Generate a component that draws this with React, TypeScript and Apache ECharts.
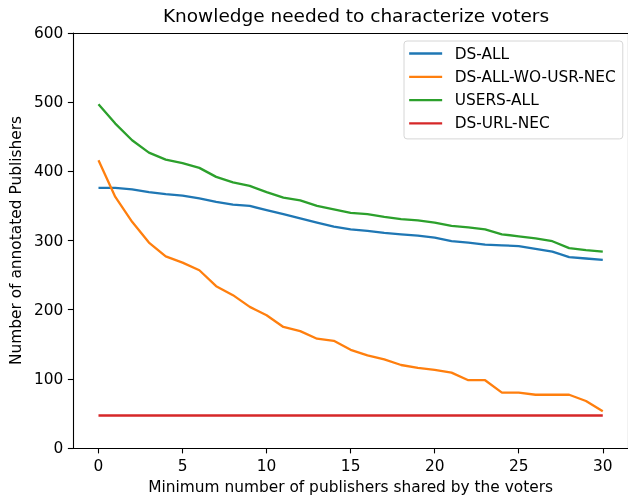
import React, { useEffect, useRef } from "react";
import * as echarts from "echarts";

const xs = [0, 1, 2, 3, 4, 5, 6, 7, 8, 9, 10, 11, 12, 13, 14, 15, 16, 17, 18, 19, 20, 21, 22, 23, 24, 25, 26, 27, 28, 29, 30];
const dsAll = [376, 376, 374, 370, 367, 365, 361, 356, 352, 350, 344, 338, 332, 326, 320, 316, 314, 311, 309, 307, 304, 299, 297, 294, 293, 292, 288, 284, 276, 274, 272];
const dsAllWoUsrNec = [416, 363, 327, 297, 277, 268, 257, 234, 221, 204, 192, 175, 169, 158, 155, 142, 134, 128, 120, 116, 113, 109, 98, 98, 80, 80, 77, 77, 77, 68, 53];
const usersAll = [497, 469, 445, 427, 417, 412, 405, 392, 384, 379, 370, 362, 358, 350, 345, 340, 338, 334, 331, 329, 326, 321, 319, 316, 309, 306, 303, 299, 289, 286, 284];
const dsUrlNec = [47, 47, 47, 47, 47, 47, 47, 47, 47, 47, 47, 47, 47, 47, 47, 47, 47, 47, 47, 47, 47, 47, 47, 47, 47, 47, 47, 47, 47, 47, 47];
const seriesNames = ["DS-ALL", "DS-ALL-WO-USR-NEC", "USERS-ALL", "DS-URL-NEC"];
const xTicks = [0, 5, 10, 15, 20, 25, 30];
const title = "Knowledge needed to characterize voters";
const xName = "Minimum number of publishers shared by the voters";
const yName = "Number of annotated Publishers";

const colors = ["#1f77b4", "#ff7f0e", "#2ca02c", "#d62728"];
const FONT = "DejaVu Sans";
const FS = 15.4;

export default function App() {
  const ref = useRef<HTMLDivElement>(null);
  useEffect(() => {
    if (!ref.current) return;
    const chart = echarts.init(ref.current, null, { renderer: "svg" });
    const all = [dsAll, dsAllWoUsrNec, usersAll, dsUrlNec];
    const axisLine = { show: true, onZero: false, lineStyle: { color: "#000", width: 1.1 } };
    chart.setOption({
      animation: false,
      color: colors,
      title: {
        text: title,
        left: 351,
        textAlign: "center",
        top: 1,
        textStyle: { fontFamily: FONT, fontSize: 18.5, fontWeight: "normal", color: "#000" },
      },
      legend: {
        orient: "vertical",
        left: 404,
        top: 41,
        align: "left",
        itemWidth: 33,
        itemHeight: 15,
        itemGap: 8.3,
        itemStyle: { opacity: 0 },
        lineStyle: { width: 2.3 },
        padding: [5, 7, 8, 4],
        backgroundColor: "#fff",
        borderColor: "#d6d6d6",
        borderWidth: 1,
        borderRadius: 3,
        textStyle: { fontFamily: FONT, fontSize: FS, color: "#000", padding: [0, 0, 0, 7.5] },
        data: seriesNames,
      },
      grid: { left: 73, top: 33, width: 558, height: 415 },
      xAxis: [
        {
          type: "value",
          min: -1.5,
          max: 31.5,
          position: "bottom",
          name: xName,
          nameLocation: "middle",
          nameGap: 31,
          nameTextStyle: { fontFamily: FONT, fontSize: FS, color: "#000" },
          axisLine,
          axisTick: { show: true, length: 5.4, customValues: xTicks, lineStyle: { color: "#000", width: 1.1 } },
          axisLabel: { customValues: xTicks, margin: 10, fontFamily: FONT, fontSize: FS, color: "#000" },
          splitLine: { show: false },
        },
        {
          type: "value",
          min: -1.5,
          max: 31.5,
          position: "top",
          axisLine,
          axisTick: { show: false },
          axisLabel: { show: false },
          splitLine: { show: false },
        },
      ],
      yAxis: [
        {
          type: "value",
          min: 0,
          max: 600,
          interval: 100,
          position: "left",
          name: yName,
          nameLocation: "middle",
          nameGap: 47,
          nameTextStyle: { fontFamily: FONT, fontSize: FS, color: "#000" },
          axisLine,
          axisTick: { show: true, length: 5.4, lineStyle: { color: "#000", width: 1.1 } },
          axisLabel: { margin: 10, fontFamily: FONT, fontSize: FS, color: "#000" },
          splitLine: { show: false },
        },
        {
          type: "value",
          min: 0,
          max: 600,
          position: "right",
          axisLine,
          axisTick: { show: false },
          axisLabel: { show: false },
          splitLine: { show: false },
        },
      ],
      series: seriesNames.map((name, i) => ({
        name,
        type: "line",
        symbol: "none",
        xAxisIndex: 0,
        yAxisIndex: 0,
        lineStyle: { width: 2.3, color: colors[i] },
        itemStyle: { color: colors[i] },
        data: xs.map((x, j) => [x, all[i][j]]),
      })),
    });
    return () => chart.dispose();
  }, []);
  return <div ref={ref} style={{ position: "fixed", left: 0, top: 0, width: 628, height: 500 }} />;
}
